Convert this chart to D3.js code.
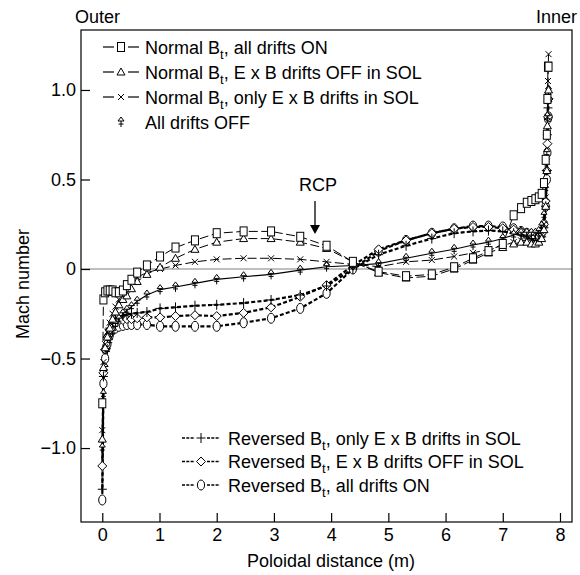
<!DOCTYPE html>
<html>
<head>
<meta charset="utf-8">
<script src="https://cdn.jsdelivr.net/npm/d3@7"></script>
<style>
  body { margin: 0; background: #fff; }
  svg { display: block; font-family: "Liberation Sans", Arial, Helvetica, sans-serif; }
</style>
</head>
<body>
<svg></svg>
<script>
// poloidal distance (m), shared by every run
const xGrid = [0, 0.02, 0.05, 0.09, 0.13, 0.18, 0.23, 0.29, 0.36, 0.43, 0.51, 0.61, 0.78, 1.01, 1.28, 1.62, 2.0, 2.47, 2.95, 3.46, 3.92, 4.38, 4.83, 5.31, 5.76, 6.15, 6.48, 6.75, 7.0, 7.19, 7.32, 7.42, 7.5, 7.57, 7.63, 7.68, 7.72, 7.75, 7.77, 7.78, 7.79, 7.8]

// Mach number per run
const normalAllOn = [-0.75, -0.17, -0.13, -0.12, -0.12, -0.12, -0.13, -0.13, -0.12, -0.09, -0.06, -0.02, 0.02, 0.07, 0.12, 0.16, 0.2, 0.21, 0.21, 0.18, 0.13, 0.04, -0.015, -0.04, -0.03, 0.01, 0.06, 0.1, 0.14, 0.3, 0.34, 0.37, 0.38, 0.39, 0.4, 0.42, 0.48, 0.61, 0.75, 0.95, 1.13, 1.13]
const normalExbOff = [-0.95, -0.55, -0.44, -0.38, -0.33, -0.28, -0.24, -0.2, -0.17, -0.15, -0.11, -0.07, -0.03, 0.01, 0.06, 0.11, 0.15, 0.17, 0.17, 0.15, 0.115, 0.04, -0.02, -0.05, -0.04, 0.0, 0.05, 0.09, 0.12, 0.14, 0.15, 0.15, 0.14, 0.14, 0.15, 0.17, 0.22, 0.35, 0.55, 0.8, 0.95, 1.0]
const normalOnlyExb = [-0.9, -0.52, -0.42, -0.35, -0.3, -0.25, -0.21, -0.17, -0.13, -0.1, -0.07, -0.045, -0.02, 0.0, 0.02, 0.04, 0.054, 0.06, 0.06, 0.054, 0.04, 0.026, 0.013, 0.04, 0.05, 0.07, 0.09, 0.11, 0.13, 0.15, 0.16, 0.16, 0.15, 0.15, 0.16, 0.19, 0.25, 0.4, 0.6, 0.85, 1.05, 1.2]
const allOff = [-1.0, -0.7, -0.55, -0.45, -0.4, -0.35, -0.31, -0.28, -0.25, -0.23, -0.21, -0.18, -0.145, -0.115, -0.1, -0.08, -0.058, -0.043, -0.03, -0.006, 0.013, 0.02, 0.03, 0.06, 0.088, 0.11, 0.134, 0.15, 0.17, 0.19, 0.2, 0.2, 0.2, 0.2, 0.21, 0.24, 0.3, 0.45, 0.65, 0.85, 0.97, 1.0]
const reversedOnlyExb = [-1.23, -0.6, -0.45, -0.38, -0.33, -0.3, -0.28, -0.27, -0.26, -0.255, -0.25, -0.245, -0.24, -0.22, -0.214, -0.205, -0.2, -0.19, -0.173, -0.145, -0.095, 0.0, 0.08, 0.13, 0.17, 0.2, 0.21, 0.215, 0.21, 0.2, 0.19, 0.18, 0.17, 0.16, 0.16, 0.18, 0.23, 0.35, 0.55, 0.75, 0.9, 0.95]
const reversedExbOff = [-1.1, -0.58, -0.45, -0.38, -0.34, -0.31, -0.3, -0.29, -0.285, -0.28, -0.28, -0.275, -0.27, -0.27, -0.263, -0.258, -0.263, -0.245, -0.214, -0.155, -0.09, 0.02, 0.11, 0.16, 0.2, 0.225, 0.235, 0.235, 0.228, 0.22, 0.21, 0.2, 0.19, 0.18, 0.18, 0.2, 0.25, 0.38, 0.55, 0.7, 0.85, 0.95]
const reversedAllOn = [-1.29, -0.64, -0.5, -0.42, -0.37, -0.34, -0.33, -0.32, -0.315, -0.31, -0.31, -0.31, -0.31, -0.32, -0.32, -0.32, -0.32, -0.3, -0.275, -0.22, -0.136, 0.0, 0.1, 0.16, 0.2, 0.225, 0.24, 0.24, 0.235, 0.225, 0.21, 0.2, 0.19, 0.18, 0.18, 0.2, 0.25, 0.35, 0.5, 0.65, 0.84, 0.85]

const xTicks = [0, 1, 2, 3, 4, 5, 6, 7, 8]
const yTicks = [-1, -0.5, 0, 0.5, 1]
const yTickLabels = ["\u22121.0", "\u22120.5", "0", "0.5", "1.0"]

const width = 580, height = 575
const plotLeft = 81, plotRight = 572, plotTop = 30, plotBottom = 522

const series = [
  {pre: "Reversed B", post: ", all drifts ON", y: reversedAllOn, marker: "circle", kind: "reversed"},
  {pre: "Reversed B", post: ", E x B drifts OFF in SOL", y: reversedExbOff, marker: "diamond", kind: "reversed"},
  {pre: "Reversed B", post: ", only E x B drifts in SOL", y: reversedOnlyExb, marker: "plus", kind: "reversed"},
  {pre: "All drifts OFF", post: null, y: allOff, marker: "arrow", kind: "solid"},
  {pre: "Normal B", post: ", only E x B drifts in SOL", y: normalOnlyExb, marker: "cross", kind: "normal"},
  {pre: "Normal B", post: ", E x B drifts OFF in SOL", y: normalExbOff, marker: "triangle", kind: "normal"},
  {pre: "Normal B", post: ", all drifts ON", y: normalAllOn, marker: "square", kind: "normal"}
]

const svg = d3.select("svg")
  .attr("width", width)
  .attr("height", height)

const x = d3.scaleLinear().domain([-0.372, 8.21]).range([plotLeft, plotRight])
const y = d3.scaleLinear().domain([-1.413, 1.335]).range([plotBottom, plotTop])

function lineStyle(sel, kind) {
  if (kind === "normal") sel.attr("stroke-width", 1).attr("stroke-dasharray", "9,3.5")
  else if (kind === "reversed") sel.attr("stroke-width", 2.2).attr("stroke-dasharray", "4,2.2")
  else sel.attr("stroke-width", 1.1)
}

function drawMarker(g, type, cx, cy) {
  const m = g.append("g").attr("transform", `translate(${cx},${cy})`)
    .attr("fill", "#fff").attr("stroke", "#000").attr("stroke-width", 1)
  if (type === "square") m.append("rect").attr("x", -3.5).attr("y", -4.5).attr("width", 7).attr("height", 9)
  else if (type === "triangle") m.append("path").attr("d", "M0,-4L4,3L-4,3Z")
  else if (type === "cross") m.append("path").attr("d", "M-3,-3L3,3M-3,3L3,-3").attr("fill", "none")
  else if (type === "plus") m.append("path").attr("d", "M-4.5,0L4.5,0M0,-5L0,5").attr("fill", "none")
  else if (type === "diamond") m.append("path").attr("d", "M0,-4.5L4.5,0L0,4.5L-4.5,0Z")
  else if (type === "circle") m.append("ellipse").attr("rx", 3.6).attr("ry", 5)
  else if (type === "arrow") {
    m.append("path").attr("d", "M0,-1L0,5M-2.5,2L2.5,2").attr("fill", "none")
    m.append("path").attr("d", "M-3,-1L0,-5L3,-1Z")
  }
}

// zero line
svg.append("line")
  .attr("x1", plotLeft).attr("x2", plotRight)
  .attr("y1", y(0)).attr("y2", y(0))
  .attr("stroke", "#808080").attr("stroke-width", 1.2)

// curves
const line = d3.line().x((d, i) => x(xGrid[i])).y(d => y(d))
series.forEach(s => {
  svg.append("path")
    .datum(s.y)
    .attr("fill", "none")
    .attr("stroke", "#000")
    .attr("d", line)
    .call(lineStyle, s.kind)
})
series.forEach(s => {
  const g = svg.append("g")
  s.y.forEach((v, i) => drawMarker(g, s.marker, x(xGrid[i]), y(v)))
})

// frame
svg.append("rect")
  .attr("x", plotLeft).attr("y", plotTop)
  .attr("width", plotRight - plotLeft).attr("height", plotBottom - plotTop)
  .attr("fill", "none").attr("stroke", "#000").attr("stroke-width", 1.2)

// axes, ticks pointing inward
const xAxis = svg.append("g")
  .attr("transform", `translate(0,${plotBottom})`)
  .call(d3.axisBottom(x).tickValues(xTicks).tickSizeInner(-9).tickSizeOuter(0).tickPadding(6))
const yAxis = svg.append("g")
  .attr("transform", `translate(${plotLeft},0)`)
  .call(d3.axisLeft(y).tickValues(yTicks).tickFormat((d, i) => yTickLabels[i]).tickSizeInner(-9).tickSizeOuter(0).tickPadding(5))
;[xAxis, yAxis].forEach(a => {
  a.select(".domain").remove()
  a.selectAll("line").attr("stroke", "#000").attr("stroke-width", 1.2)
  a.selectAll("text").attr("font-size", 18).attr("font-family", null).attr("fill", "#000")
})

svg.append("text")
  .attr("x", 331).attr("y", 567)
  .attr("text-anchor", "middle").attr("font-size", 18)
  .text("Poloidal distance (m)")
svg.append("text")
  .attr("transform", "translate(29,284) rotate(-90)")
  .attr("text-anchor", "middle").attr("font-size", 18)
  .text("Mach number")

svg.append("text").attr("x", 75).attr("y", 23).attr("font-size", 18).text("Outer")
svg.append("text").attr("x", 577).attr("y", 23).attr("text-anchor", "end").attr("font-size", 18).text("Inner")

// RCP marker
svg.append("text").attr("x", 318).attr("y", 191).attr("text-anchor", "middle").attr("font-size", 18).text("RCP")
svg.append("line").attr("x1", 315).attr("x2", 315).attr("y1", 201).attr("y2", 227).attr("stroke", "#000").attr("stroke-width", 1.3)
svg.append("path").attr("d", "M310,225L320,225L315,234Z").attr("fill", "#000")

// legends
function legendStroke(sel, kind) {
  if (kind === "reversed") sel.attr("stroke-width", 1.4).attr("stroke-dasharray", "3,1.3")
  else sel.attr("stroke-width", 1.2)
}
function legendRow(s, lx, ly, half, mx, tx) {
  const g = svg.append("g")
  if (s.post !== null) {
    g.append("line").attr("x1", lx).attr("x2", mx - half).attr("y1", ly).attr("y2", ly).attr("stroke", "#000")
      .call(legendStroke, s.kind)
    g.append("line").attr("x1", mx + half).attr("x2", 2 * mx - lx).attr("y1", ly).attr("y2", ly).attr("stroke", "#000")
      .call(legendStroke, s.kind)
  }
  drawMarker(g, s.marker, mx, ly)
  const t = g.append("text").attr("x", tx).attr("y", ly + 6.5).attr("font-size", 18)
  t.append("tspan").text(s.pre)
  if (s.post !== null) {
    t.append("tspan").attr("dy", 5).attr("font-size", 13).text("t")
    t.append("tspan").attr("dy", -5).text(s.post)
  }
}

const topRows = [series[6], series[5], series[4], series[3]]
topRows.forEach((s, i) => legendRow(s, 103, 47 + i * 25, 7, 121, 145))
const bottomRows = [series[2], series[1], series[0]]
bottomRows.forEach((s, i) => legendRow(s, 182, 438 + i * 23.5, 6, 201, 228))
</script>
</body>
</html>
